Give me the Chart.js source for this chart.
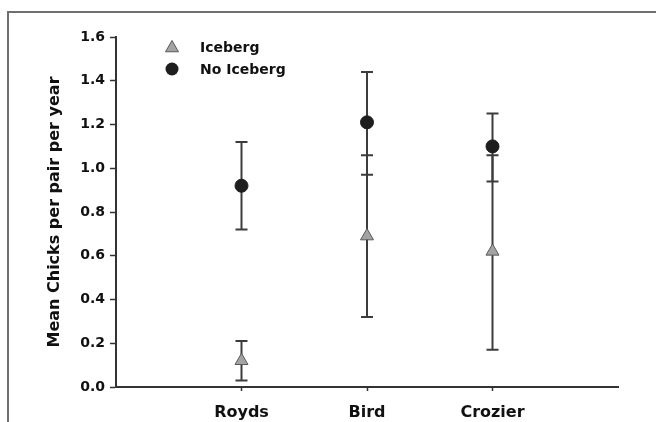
<!DOCTYPE html>
<html>
<head>
<meta charset="utf-8">
<script src="https://cdn.jsdelivr.net/npm/chart.js@4/dist/chart.umd.min.js"></script>
<style>
  body { margin: 0; background: #fff; }
  canvas { display: block; }
</style>
</head>
<body>
<canvas id="c" width="656" height="422"></canvas>
<script>
// colonies along the x axis
var categories = ["Royds", "Bird", "Crozier"];

// mean chicks per pair per year, with error bar ends
var icebergMean = [0.12, 0.69, 0.62];
var icebergLow = [0.03, 0.32, 0.17];
var icebergHigh = [0.21, 1.06, 1.06];

var noIcebergMean = [0.92, 1.21, 1.10];
var noIcebergLow = [0.72, 0.97, 0.94];
var noIcebergHigh = [1.12, 1.44, 1.25];

var yTicks = [0, 0.2, 0.4, 0.6, 0.8, 1.0, 1.2, 1.4, 1.6];

var FONT = "'DejaVu Sans', sans-serif";

function points(vals) {
  return vals.map(function(v, i) { return { x: i + 1, y: v }; });
}

var errs = [[icebergLow, icebergHigh], [noIcebergLow, noIcebergHigh]];

// grey outer frame (top and left only)
var framePlugin = {
  id: "frame",
  beforeDraw: function(chart) {
    var ctx = chart.ctx;
    ctx.save();
    ctx.fillStyle = "#fff";
    ctx.fillRect(0, 0, chart.width, chart.height);
    ctx.strokeStyle = "#707070";
    ctx.lineWidth = 2;
    ctx.beginPath();
    ctx.moveTo(8, chart.height);
    ctx.lineTo(8, 12);
    ctx.lineTo(chart.width, 12);
    ctx.stroke();
    ctx.restore();
  }
};

// vertical error bars with caps
var errorBars = {
  id: "errorBars",
  beforeDatasetsDraw: function(chart) {
    var ctx = chart.ctx;
    var xs = chart.scales.x, ys = chart.scales.y;
    ctx.save();
    ctx.strokeStyle = "#3c3c3c";
    ctx.lineWidth = 2;
    errs.forEach(function(e) {
      categories.forEach(function(c, i) {
        var x = xs.getPixelForValue(i + 1);
        var y1 = ys.getPixelForValue(e[0][i]);
        var y2 = ys.getPixelForValue(e[1][i]);
        ctx.beginPath();
        ctx.moveTo(x, y1); ctx.lineTo(x, y2);
        ctx.moveTo(x - 6, y1); ctx.lineTo(x + 6, y1);
        ctx.moveTo(x - 6, y2); ctx.lineTo(x + 6, y2);
        ctx.stroke();
      });
    });
    ctx.restore();
  }
};

// legend in the upper left of the plot
var legendBox = {
  id: "legendBox",
  afterDraw: function(chart) {
    var ctx = chart.ctx;
    ctx.save();
    // triangle
    var r = 7.5, cx = 172, cy = 48;
    ctx.beginPath();
    ctx.moveTo(cx, cy - r);
    ctx.lineTo(cx + r * 0.866, cy + r / 2);
    ctx.lineTo(cx - r * 0.866, cy + r / 2);
    ctx.closePath();
    ctx.fillStyle = "#a3a3a3";
    ctx.fill();
    ctx.strokeStyle = "#5a5a5a";
    ctx.lineWidth = 1;
    ctx.stroke();
    // circle
    ctx.beginPath();
    ctx.arc(172, 69, 6.5, 0, Math.PI * 2);
    ctx.fillStyle = "#1e1e1e";
    ctx.fill();
    ctx.fillStyle = "#111";
    ctx.font = "bold 14px " + FONT;
    ctx.textBaseline = "middle";
    ctx.textAlign = "left";
    ctx.fillText("Iceberg", 200, 48);
    ctx.fillText("No Iceberg", 200, 70);
    ctx.restore();
  }
};

new Chart(document.getElementById("c"), {
  type: "scatter",
  data: {
    datasets: [
      {
        label: "Iceberg",
        data: points(icebergMean),
        pointStyle: "triangle",
        pointRadius: 7.5,
        backgroundColor: "#a3a3a3",
        borderColor: "#5a5a5a",
        borderWidth: 1
      },
      {
        label: "No Iceberg",
        data: points(noIcebergMean),
        pointStyle: "circle",
        pointRadius: 6.5,
        backgroundColor: "#1e1e1e",
        borderColor: "#1e1e1e",
        borderWidth: 1
      }
    ]
  },
  options: {
    responsive: false,
    animation: false,
    layout: { padding: { top: 37, right: 38, left: 0, bottom: 0 } },
    plugins: {
      legend: { display: false },
      tooltip: { enabled: false }
    },
    scales: {
      x: {
        type: "linear",
        min: 0,
        max: 4,
        afterBuildTicks: function(scale) {
          scale.ticks = categories.map(function(c, i) { return { value: i + 1 }; });
        },
        afterFit: function(scale) { scale.height = 35; },
        grid: {
          drawOnChartArea: false,
          drawTicks: true,
          tickLength: 4,
          tickColor: "#333",
          tickWidth: 1.5
        },
        border: { display: true, color: "#333", width: 2 },
        ticks: {
          padding: 12,
          color: "#111",
          font: { family: FONT, size: 16, weight: "bold" },
          callback: function(v) { return categories[v - 1] || ""; }
        }
      },
      y: {
        min: 0,
        max: 1.6,
        afterBuildTicks: function(scale) {
          scale.ticks = yTicks.map(function(v) { return { value: v }; });
        },
        afterFit: function(scale) { scale.width = 116; },
        grid: {
          drawOnChartArea: false,
          drawTicks: true,
          tickLength: 6,
          tickColor: "#333",
          tickWidth: 1.5
        },
        border: { display: true, color: "#333", width: 2 },
        ticks: {
          padding: 5,
          color: "#111",
          font: { family: FONT, size: 14, weight: "bold" },
          callback: function(v) { return v.toFixed(1); }
        },
        title: {
          display: true,
          text: "Mean Chicks per pair per year",
          color: "#111",
          font: { family: FONT, size: 16, weight: "bold" },
          padding: { top: 45, bottom: 0 }
        }
      }
    }
  },
  plugins: [framePlugin, errorBars, legendBox]
});
</script>
</body>
</html>
